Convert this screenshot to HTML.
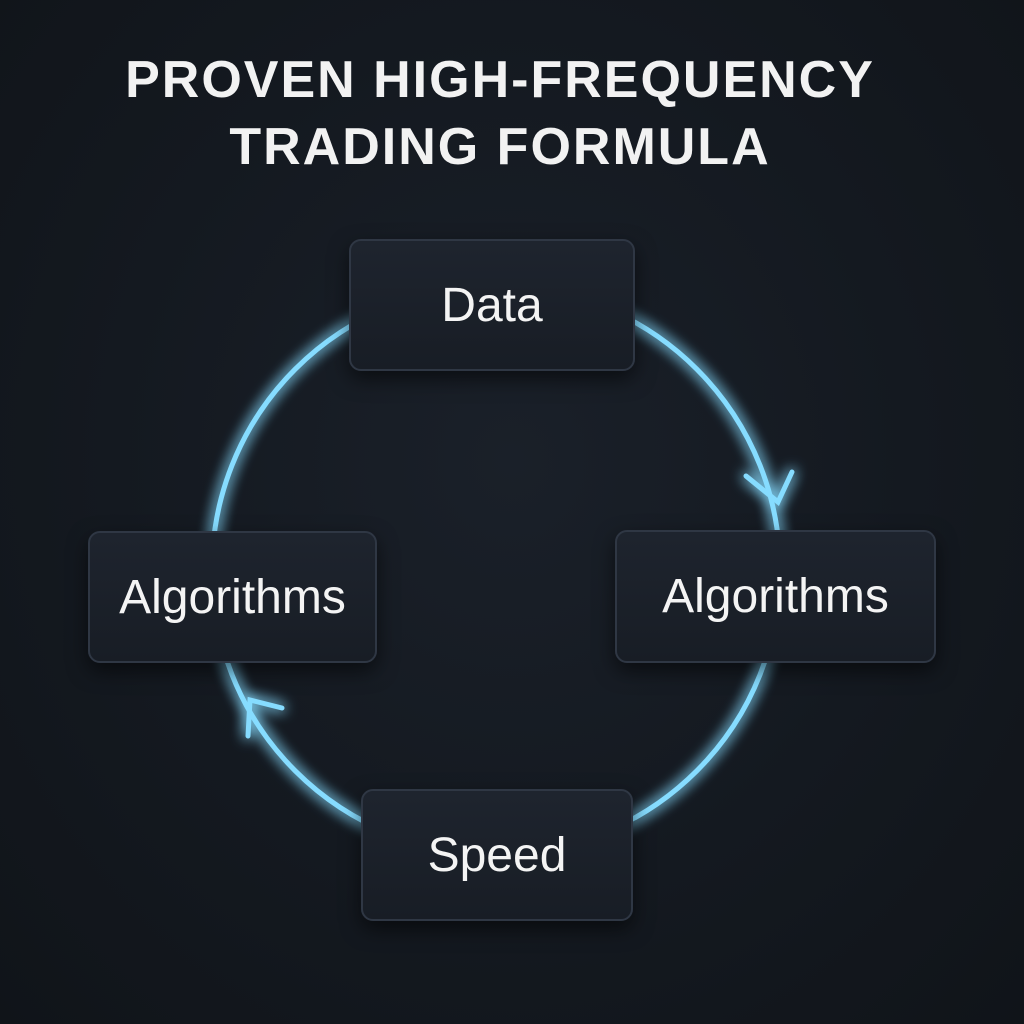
<!DOCTYPE html>
<html><head><meta charset="utf-8"><style>
html,body{margin:0;padding:0}
body{width:1024px;height:1024px;overflow:hidden;background:radial-gradient(ellipse at 50% 45%,#1a2029 0%,#141920 55%,#101419 100%);font-family:"Liberation Sans",sans-serif;position:relative}
.t{position:absolute;left:0;width:1000px;text-align:center;color:#f2f2f2;font-weight:bold;font-size:52px;letter-spacing:2px}
.b{position:absolute;box-sizing:border-box;border:2px solid #2f3744;border-radius:12px;background:linear-gradient(#1e242e,#181d25);box-shadow:0 8px 20px rgba(0,0,0,.55);color:#f4f4f4;font-size:48px;display:flex;align-items:center;justify-content:center}
</style></head><body>
<svg width="1024" height="1024" style="position:absolute;left:0;top:0">
<defs><filter id="g" x="-20%" y="-20%" width="140%" height="140%"><feGaussianBlur stdDeviation="7" result="b"/><feMerge><feMergeNode in="b"/><feMergeNode in="b"/><feMergeNode in="SourceGraphic"/></feMerge></filter></defs>
<g filter="url(#g)" stroke="#86dcff" stroke-width="5" fill="none" stroke-linecap="round">
<circle cx="496" cy="570" r="284"/>
<polyline points="746,476 778,502 792,472"/>
<polyline points="282,708 250,700 248,736"/>
</g>
</svg>
<div class="t" style="top:50px">PROVEN HIGH-FREQUENCY</div>
<div class="t" style="top:117px">TRADING FORMULA</div>
<div class="b" style="left:349px;top:239px;width:286px;height:132px">Data</div>
<div class="b" style="left:88px;top:531px;width:289px;height:132px">Algorithms</div>
<div class="b" style="left:615px;top:530px;width:321px;height:133px">Algorithms</div>
<div class="b" style="left:361px;top:789px;width:272px;height:132px">Speed</div>
</body></html>
